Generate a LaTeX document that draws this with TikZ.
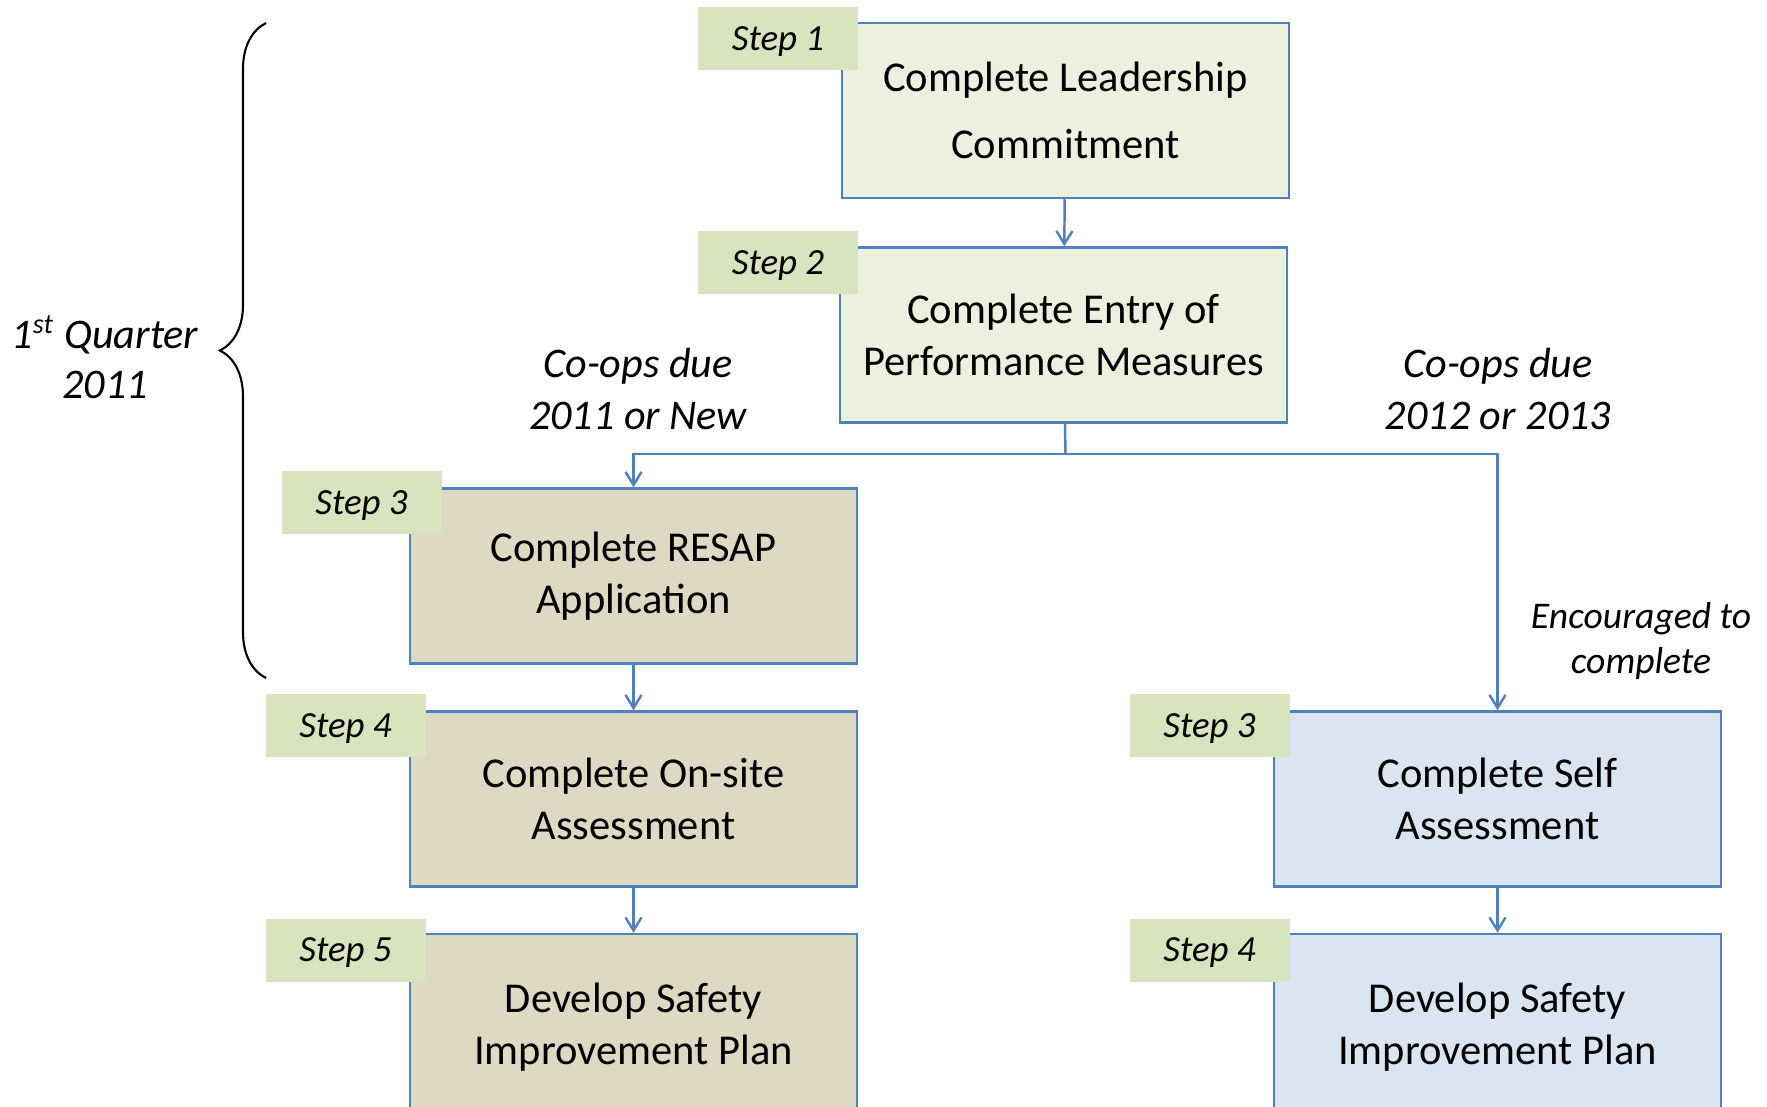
\documentclass[tikz,border=0pt]{standalone}
\usepackage{fontspec}
\setmainfont{Carlito}
\usetikzlibrary{arrows.meta,decorations.pathreplacing}
\definecolor{boxline}{HTML}{4F81BD}
\definecolor{tagfill}{HTML}{D7E4BD}
\definecolor{greenfill}{HTML}{EBF1DE}
\definecolor{tanfill}{HTML}{DDD9C3}
\definecolor{bluefill}{HTML}{DBE5F1}
\begin{document}
\begin{tikzpicture}[x=0.1mm, y=-0.1mm, box/.style={rectangle, draw=boxline, line width=0.7pt, fill=#1, minimum width=44.7mm, minimum height=17.5mm, inner sep=0pt, align=center, font=\fontsize{12.1}{14.7}\selectfont}, box/.default=greenfill, tag/.style={rectangle, fill=tagfill, minimum width=16mm, minimum height=6.3mm, inner sep=0pt, text depth=0pt, font=\fontsize{10.5}{12}\selectfont\itshape}, note/.style={align=center, font=\fontsize{#1}{14.7}\selectfont\itshape}, note/.default=12, flow/.style={draw=boxline, line width=0.7pt, -{Straight Barb[length=1.3mm, width=1.6mm]}}]

\useasboundingbox (0,0) rectangle (1767,1106);
\clip (0,0) rectangle (1767,1106);

\node [box, font=\fontsize{12.1}{19}\selectfont] (S1) at (1065.5,110.5) {Complete Leadership\\Commitment};
\node [box] (S2) at (1063.5,335) {Complete Entry of\\Performance Measures};
\node [box=tanfill] (L3) at (633.5,576) {Complete RESAP\\Application};
\node [box=tanfill] (L4) at (633.5,799) {Complete On-site\\Assessment};
\node [box=tanfill, minimum height=18.6mm] (L5) at (633.5,1027) {Develop Safety\\Improvement Plan};
\node [box=bluefill] (R3) at (1497.5,799) {Complete Self\\Assessment};
\node [box=bluefill, minimum height=18.6mm] (R4) at (1497.5,1027) {Develop Safety\\Improvement Plan};

\node [tag] (T1) at (778,38.5) {Step 1};
\node [tag] (T2) at (778,262.5) {Step 2};
\node [tag] (TL3) at (361.5,502.5) {Step 3};
\node [tag] (TL4) at (345.5,725.5) {Step 4};
\node [tag] (TL5) at (345.5,950) {Step 5};
\node [tag] (TR3) at (1209.5,725.5) {Step 3};
\node [tag] (TR4) at (1209.5,950) {Step 4};

\node [note] (due1) at (638,389) {Co-ops due\\2011 or New};
\node [note] (due2) at (1498,389) {Co-ops due\\2012 or 2013};
\node [note, font=\fontsize{10.7}{12.8}\selectfont\itshape] (enc) at (1641,641) {Encouraged to\\complete};
\node [note, font=\fontsize{12}{14.2}\selectfont\itshape] (quarter) at (105,357) {1\textsuperscript{st} Quarter\\2011};

\coordinate (split) at (1065.5,454);
\draw[flow] (S1) -- (S2);
\draw[draw=boxline, line width=0.7pt] (S2) -- (split);
\draw[flow] (split) -| (L3);
\draw[flow] (split) -| (R3);
\draw[flow] (L3) -- (L4);
\draw[flow] (L4) -- (L5);
\draw[flow] (R3) -- (R4);

\draw[decorate, decoration={brace, amplitude=4.6mm}, line width=0.6pt] (266,678) -- (266,23);

\end{tikzpicture}
\end{document}
